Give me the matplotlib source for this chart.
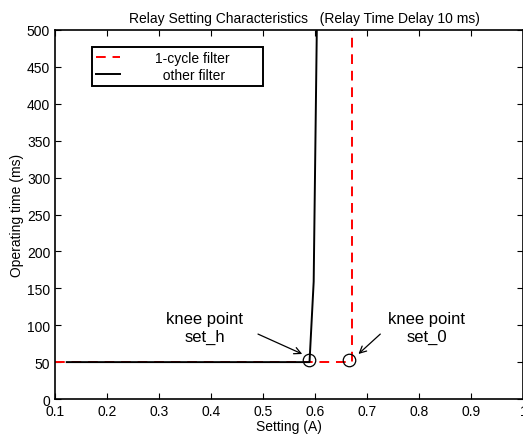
import matplotlib
matplotlib.use('Agg')
import matplotlib.pyplot as plt

plt.rcParams['font.family'] = ['Liberation Sans', 'DejaVu Sans']

# data
x_1cycle = [0.1, 0.671, 0.671]
y_1cycle = [50, 50, 500]
x_other = [0.1225, 0.589, 0.597, 0.603]
y_other = [50, 50, 159, 500]
knee_x = [0.588, 0.664]
knee_y = [53, 53]
knee_labels = ['knee point\nset_h', 'knee point\nset_0']
label_x = [0.388, 0.814]
label_y = [97, 97]
arrow_from = [(0.490, 88), (0.725, 88)]
arrow_to = [(0.575, 61), (0.683, 61)]

fig = plt.figure(figsize=(5.23, 4.39), dpi=100)
ax = fig.add_axes([0.1052, 0.0888, 0.8956, 0.8406])

ax.plot(x_1cycle, y_1cycle, '--', color='#ff0000', lw=1.4, dashes=(5, 3.5), label='1-cycle filter')
ax.plot(x_other, y_other, '-', color='black', lw=1.4, label='other filter')
ax.plot(knee_x, knee_y, 'o', mfc='none', mec='black', ms=9, mew=0.9)

for lx, ly, txt in zip(label_x, label_y, knee_labels):
    ax.text(lx, ly, txt, ha='center', va='center', fontsize=12, linespacing=1.2)
for a, b in zip(arrow_from, arrow_to):
    ax.annotate('', xy=b, xytext=a,
                arrowprops=dict(arrowstyle='->', color='black', lw=0.9,
                                shrinkA=0, shrinkB=0, mutation_scale=12))

ax.set_xlim(0.1, 1.0)
ax.set_ylim(0, 500)
ax.set_xticks([0.1, 0.2, 0.3, 0.4, 0.5, 0.6, 0.7, 0.8, 0.9, 1.0])
ax.set_xticklabels(['0.1', '0.2', '0.3', '0.4', '0.5', '0.6', '0.7', '0.8', '0.9', '1'])
ax.set_yticks(range(0, 501, 50))
ax.tick_params(direction='in', top=True, right=True, labelsize=10, length=4)
for s in ax.spines.values():
    s.set_linewidth(1.2)

ax.set_xlabel('Setting (A)', fontsize=10, labelpad=1)
ax.set_ylabel('Operating time (ms)', fontsize=10, labelpad=2)
ax.set_title('Relay Setting Characteristics   (Relay Time Delay 10 ms)', fontsize=10,
             pad=6, x=0.532)

leg = ax.legend(loc='upper left', bbox_to_anchor=(0.079, 0.848, 0.366, 0.106),
                mode='expand', borderaxespad=0, fontsize=10, fancybox=False,
                edgecolor='black', framealpha=1, handlelength=1.7, handletextpad=2.5,
                borderpad=0.3, labelspacing=0.2)
leg.get_frame().set_linewidth(1.4)
leg.get_texts()[1].set_text('  other filter')

fig.savefig('out.png', dpi=100)
